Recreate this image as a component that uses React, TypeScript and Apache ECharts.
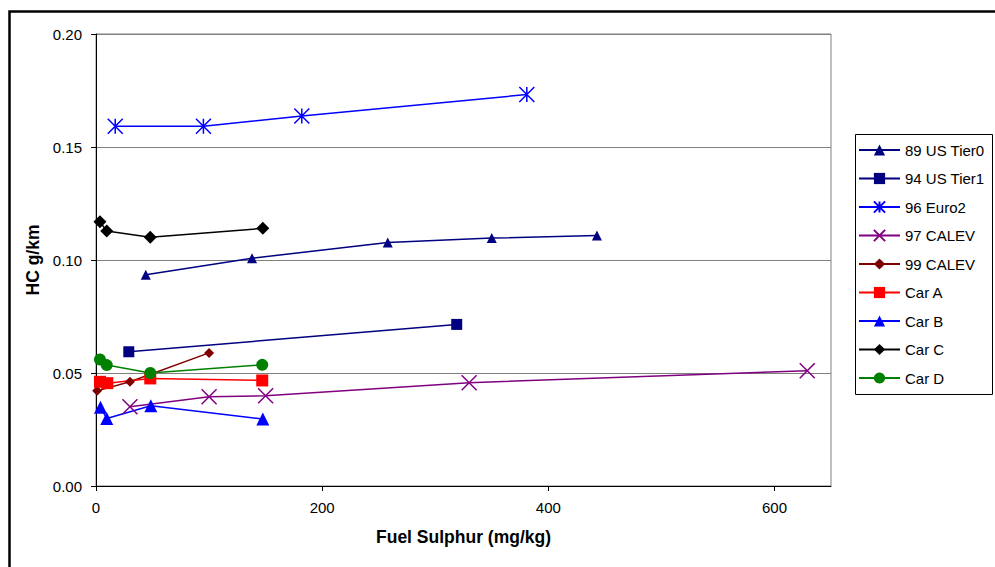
import React, { useEffect, useRef } from "react";
import * as echarts from "echarts";

// ---- Data ----
const tier0X = [44, 138, 258, 350, 443];
const tier0Y = [0.0935, 0.1008, 0.1077, 0.1097, 0.1108];

const tier1X = [29, 319];
const tier1Y = [0.0594, 0.0715];

const euro2X = [17, 95, 182, 381];
const euro2Y = [0.1592, 0.1592, 0.1637, 0.1732];

const calev97X = [30, 100, 150, 330, 629];
const calev97Y = [0.0351, 0.0395, 0.0399, 0.0457, 0.051];

const calev99X = [1, 30, 100];
const calev99Y = [0.0421, 0.0461, 0.0589];

const carAX = [3.5, 10, 48, 147];
const carAY = [0.0461, 0.0455, 0.0476, 0.0467];

const carBX = [4, 9.5, 48.5, 147.5];
const carBY = [0.0348, 0.0299, 0.0355, 0.0296];

const carCX = [3.5, 9.5, 48, 147.5];
const carCY = [0.1169, 0.1128, 0.1101, 0.114];

const carDX = [3.5, 9.5, 48, 147];
const carDY = [0.056, 0.0535, 0.05, 0.0536];

const seriesNames = [
  "89 US Tier0",
  "94 US Tier1",
  "96 Euro2",
  "97 CALEV",
  "99 CALEV",
  "Car A",
  "Car B",
  "Car C",
  "Car D",
];

const xTicks = [0, 200, 400, 600];

const pair = (xs: number[], ys: number[]) => xs.map((x, i) => [x, ys[i]]);

const ASTERISK = "path://M0,0L10,10M10,0L0,10M5,0L5,10";
const CROSS = "path://M0,0L10,10M10,0L0,10";

const FONT = "Liberation Sans, Arial, sans-serif";

export default function App() {
  const ref = useRef<HTMLDivElement>(null);

  useEffect(() => {
    if (!ref.current) return;
    const chart = echarts.init(ref.current, null, { renderer: "svg" });

    const mk = (
      name: string,
      xs: number[],
      ys: number[],
      color: string,
      symbol: string,
      size: number,
      stroke = false
    ) => ({
      name,
      type: "line",
      data: pair(xs, ys),
      color,
      symbol,
      symbolSize: size,
      showSymbol: true,
      lineStyle: { color, width: 1.5 },
      itemStyle: stroke
        ? { color, borderColor: color, borderWidth: 1.5 }
        : { color },
      emphasis: { disabled: true },
    });

    chart.setOption({
      animation: false,
      backgroundColor: "#ffffff",
      textStyle: { fontFamily: FONT },
      grid: {
        left: 96,
        top: 34,
        width: 735,
        height: 452,
        show: true,
        borderColor: "#808080",
        borderWidth: 1,
        backgroundColor: "transparent",
      },
      xAxis: {
        type: "value",
        min: 0,
        max: 650,
        interval: 200,
        name: "Fuel Sulphur (mg/kg)",
        nameLocation: "middle",
        nameGap: 42,
        nameTextStyle: {
          fontFamily: FONT,
          fontWeight: "bold",
          fontSize: 17.5,
          color: "#000",
        },
        axisLine: { show: true, onZero: false, lineStyle: { color: "#000", width: 1 } },
        axisTick: {
          show: true,
          length: 5,
          customValues: xTicks,
          lineStyle: { color: "#000" },
        },
        axisLabel: {
          customValues: xTicks,
          fontFamily: FONT,
          fontSize: 15,
          color: "#000",
          margin: 14,
        },
        splitLine: { show: false },
      },
      yAxis: {
        type: "value",
        min: 0,
        max: 0.2,
        interval: 0.05,
        name: "HC g/km",
        nameLocation: "middle",
        nameGap: 53,
        nameTextStyle: {
          fontFamily: FONT,
          fontWeight: "bold",
          fontSize: 17.5,
          color: "#000",
        },
        axisLine: { show: true, onZero: false, lineStyle: { color: "#000", width: 1 } },
        axisTick: { show: true, length: 5, lineStyle: { color: "#000" } },
        axisLabel: {
          fontFamily: FONT,
          fontSize: 15,
          color: "#000",
          margin: 14,
          formatter: (v: number) => v.toFixed(2),
        },
        splitLine: { show: true, lineStyle: { color: "#808080", width: 1 } },
      },
      legend: {
        orient: "vertical",
        left: 855,
        top: 134,
        padding: [8, 10, 8, 3],
        itemWidth: 41,
        itemHeight: 14,
        itemGap: 12.5,
        data: seriesNames,
        textStyle: {
          fontFamily: FONT,
          fontSize: 15,
          color: "#000",
          lineHeight: 16,
        },
      },
      graphic: [
        {
          type: "rect",
          shape: { x: 855.5, y: 134.5, width: 137, height: 260 },
          style: { fill: "none", stroke: "#000", lineWidth: 1 },
          silent: true,
        },
        {
          type: "rect",
          shape: { x: 9.5, y: 11.5, width: 1200, height: 800 },
          style: { fill: "none", stroke: "#000", lineWidth: 2.5 },
          silent: true,
        },
      ],
      series: [
        mk(seriesNames[0], tier0X, tier0Y, "#000080", "triangle", 10),
        mk(seriesNames[1], tier1X, tier1Y, "#000080", "rect", 11),
        mk(seriesNames[2], euro2X, euro2Y, "#0000FF", ASTERISK, 15, true),
        mk(seriesNames[3], calev97X, calev97Y, "#800080", CROSS, 15, true),
        mk(seriesNames[4], calev99X, calev99Y, "#800000", "diamond", 10),
        mk(seriesNames[5], carAX, carAY, "#FF0000", "rect", 12),
        mk(seriesNames[6], carBX, carBY, "#0000FF", "triangle", 13),
        mk(seriesNames[7], carCX, carCY, "#000000", "diamond", 13),
        mk(seriesNames[8], carDX, carDY, "#008000", "circle", 12),
      ],
    });

    return () => chart.dispose();
  }, []);

  return (
    <div
      ref={ref}
      style={{
        position: "fixed",
        left: 0,
        top: 0,
        width: 995,
        height: 567,
        background: "#fff",
      }}
    />
  );
}
